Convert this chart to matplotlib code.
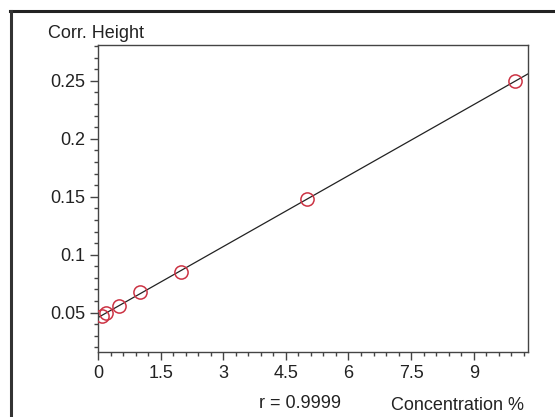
import numpy as np
import matplotlib.pyplot as plt
from matplotlib.lines import Line2D
from matplotlib.ticker import MultipleLocator, FixedLocator

# Calibration standards
conc = [0.1, 0.2, 0.5, 1.0, 2.0, 5.0, 10.0]
height = [0.0475, 0.0495, 0.0560, 0.0680, 0.0850, 0.1480, 0.2500]
x_ticks = [0, 1.5, 3, 4.5, 6, 7.5, 9]
x_labels = ['0', '1.5', '3', '4.5', '6', '7.5', '9']
y_ticks = [0.05, 0.1, 0.15, 0.2, 0.25]
y_labels = ['0.05', '0.1', '0.15', '0.2', '0.25']
r_text = 'r = 0.9999'

plt.rcParams['font.family'] = ['Liberation Sans', 'DejaVu Sans']

fig = plt.figure(figsize=(5.55, 4.17), dpi=100)
ax = fig.add_axes((98 / 555, 1 - 352 / 417, 430 / 555, 307 / 417))

# least squares line across the full x range
slope, icpt = np.polyfit(conc, height, 1)
xl = np.array([0, 10.3])
ax.plot(xl, slope * xl + icpt, color='#222222', lw=0.9, zorder=2)
ax.plot(conc, height, 'o', mfc='none', mec='#cc3344', mew=1.1, ms=9.5, zorder=3)

ax.set_xlim(0, 10.3)
ax.set_ylim(0.016, 0.281)
ax.xaxis.set_major_locator(FixedLocator(x_ticks))
ax.set_xticklabels(x_labels)
ax.xaxis.set_minor_locator(MultipleLocator(0.3))
ax.yaxis.set_major_locator(FixedLocator(y_ticks))
ax.set_yticklabels(y_labels)
ax.yaxis.set_minor_locator(MultipleLocator(0.01))

for s in ax.spines.values():
    s.set_color('#444444')
    s.set_linewidth(1.0)
ax.tick_params(which='major', length=6, width=1, color='#444444', labelsize=13, pad=3, labelcolor='#222222')
ax.tick_params(which='minor', length=3, width=1, color='#444444')

fig.text(48 / 555, 1 - 38 / 417, 'Corr. Height', fontsize=13, color='#222222', va='baseline', ha='left')
fig.text(300 / 555, 1 - 403 / 417, r_text, fontsize=13, color='#222222', va='center', ha='center')
fig.text(524 / 555, 1 - 405 / 417, 'Concentration %', fontsize=13, color='#222222', va='center', ha='right')

# outer frame (top and left edges)
fig.add_artist(Line2D([10 / 555, 1], [1 - 11 / 417, 1 - 11 / 417], color='#222222', lw=2.2))
fig.add_artist(Line2D([11 / 555, 11 / 555], [0, 1 - 11 / 417], color='#333333', lw=2.2))

fig.savefig('out.png', dpi=100)
